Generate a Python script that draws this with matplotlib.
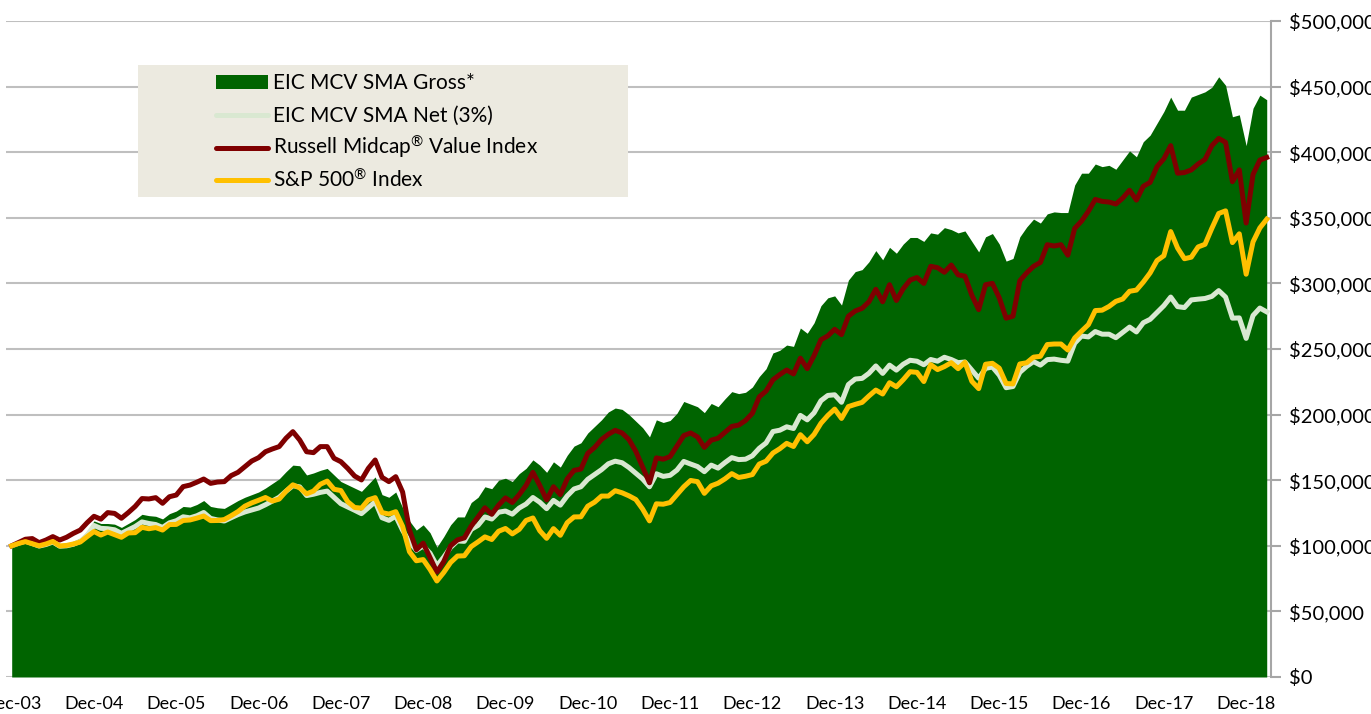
import matplotlib
matplotlib.use('Agg')
import matplotlib.pyplot as plt
from matplotlib.patches import Rectangle
from matplotlib.lines import Line2D
import pandas as pd

plt.rcParams['font.family'] = ['Lato', 'DejaVu Sans']
plt.rcParams['mathtext.fontset'] = 'custom'
plt.rcParams['mathtext.rm'] = 'Lato'
plt.rcParams['mathtext.it'] = 'Lato:italic'
plt.rcParams['mathtext.bf'] = 'Lato:bold'

# ---------------- data (values in $ thousands) ----------------
months = pd.date_range('2003-12-31', periods=184, freq='ME').strftime('%b-%y').tolist()

gross = [100, 102.3, 104, 102.5, 100.8, 102.3, 104.5, 101.5, 102, 103.5, 106, 111, 119,
         117, 117, 116.5, 114, 117, 120, 124, 123, 122.5, 120.5, 124.5, 126.5,
         130, 129.5, 131.5, 134.5, 130, 129, 128.5, 131.5, 134.5, 137, 139, 141,
         144, 147.5, 151, 156.5, 161.5, 161, 154, 155.5, 157.5, 159, 154, 149,
         146.5, 144, 141.5, 147, 152.5, 139, 137, 141, 129, 119, 112, 116,
         110, 99, 107, 116, 122, 122, 133, 137, 145, 143.5, 150, 151.5,
         149, 155, 159, 165.5, 161.5, 156, 164, 160, 169, 176, 178.5, 186,
         191, 196, 202, 205, 204, 200, 195, 190, 183, 196, 194, 195.5,
         201, 210, 208, 206, 201.5, 208.5, 206, 212, 217.5, 216, 217, 221,
         229, 235, 247, 249, 253, 252, 266, 262, 270, 283, 289, 290.5,
         283.5, 302.5, 309, 310.5, 316.5, 325, 318, 327.5, 323, 330, 335, 335,
         332, 338.5, 337.5, 342.5, 341, 338.5, 340, 332, 324, 335.5, 338, 330,
         317, 319, 335.5, 343, 349, 346, 353, 354.5, 354, 354, 375, 384,
         384, 391, 389, 390, 387, 394, 401, 396.5, 408, 413, 422, 431,
         442, 432, 432, 442, 444, 446, 449.5, 457.5, 451, 427, 428.5, 405,
         433.5, 443.5, 440]

net = [100, 102.0, 103.5, 101.7, 99.8, 101.0, 102.9, 99.7, 100.0, 101.2, 103.4, 108.0, 115.5,
       113.3, 113.0, 112.2, 109.5, 112.1, 114.7, 118.2, 117.0, 116.2, 114.0, 117.5, 119.1,
       122.1, 121.3, 122.9, 125.4, 120.9, 119.7, 118.9, 121.4, 123.8, 125.8, 127.3, 128.8,
       131.3, 134.1, 137.0, 141.6, 145.8, 144.9, 138.3, 139.3, 140.7, 141.7, 136.9, 132.1,
       129.6, 127.1, 124.5, 129.1, 133.6, 121.4, 119.4, 122.6, 111.8, 102.9, 96.6, 99.8,
       94.4, 84.8, 91.4, 98.8, 103.7, 103.4, 112.5, 115.6, 122.0, 120.4, 125.6, 126.5,
       124.1, 128.8, 131.8, 136.8, 133.2, 128.3, 134.6, 131.0, 138.0, 143.3, 145.0, 150.7,
       154.4, 158.0, 162.5, 164.5, 163.3, 159.7, 155.3, 150.9, 145.0, 154.9, 152.9, 153.7,
       157.7, 164.3, 162.3, 160.4, 156.5, 161.5, 159.2, 163.4, 167.2, 165.7, 166.0, 168.6,
       174.3, 178.4, 187.1, 188.1, 190.7, 189.4, 199.4, 196.0, 201.4, 210.6, 214.6, 215.1,
       209.4, 222.9, 227.1, 227.6, 231.5, 237.1, 231.4, 237.7, 233.9, 238.4, 241.4, 240.7,
       238.0, 242.0, 240.7, 243.7, 242.0, 239.6, 240.1, 233.9, 227.7, 235.2, 236.3, 230.1,
       220.5, 221.4, 232.2, 236.8, 240.4, 237.7, 241.9, 242.3, 241.4, 240.8, 254.4, 259.9,
       259.2, 263.3, 261.3, 261.3, 258.6, 262.6, 266.7, 263.0, 270.0, 272.6, 277.8, 283.0,
       289.6, 282.3, 281.6, 287.4, 288.0, 288.5, 290.1, 294.5, 289.6, 273.5, 273.7, 258.1,
       275.5, 281.2, 278.3]

russell = [100, 102.5, 105, 105.5, 102.4, 104.4, 107, 104.4, 106.5, 109.5, 112, 117.6, 122.5,
           120.3, 125.3, 124.7, 121, 125.3, 130, 136, 135.7, 136.7, 132.4, 137.4, 138.7,
           145.1, 146.3, 148.5, 150.9, 147.6, 148.6, 148.9, 153.5, 156, 160.3, 164.6, 167.2,
           171.7, 173.8, 175.6, 182, 187, 180.6, 171.7, 171, 175.6, 175.6, 166.7, 164.1,
           159, 153.2, 150.2, 159, 165.4, 152.2, 148.9, 152.7, 141, 112, 97, 102,
           91, 80, 88, 100, 104.5, 106, 115, 122, 129, 124, 131, 136.5,
           133, 139, 146, 156, 146, 135, 145, 139, 151, 157.5, 158.5, 170.5,
           175, 181, 185, 188, 186, 181, 172, 160, 148, 167, 166, 168,
           176, 184, 186, 183, 175, 180.5, 182, 186.5, 191, 192, 195.5, 201,
           213.5, 218, 226.5, 230.5, 234, 231, 243, 235, 245, 257, 260, 265,
           261, 275, 279, 281, 286, 295.5, 286, 299, 287, 296, 302.5, 304.5,
           300, 313, 312, 308.5, 314, 306.5, 305.5, 291, 280, 299, 300, 289,
           273.5, 275, 302, 308, 313, 316, 329.5, 328.5, 329.5, 321.5, 342, 347.5,
           355, 364, 362.5, 362, 360.5, 365, 371, 363.5, 374, 377, 389, 395,
           405, 384, 384.5, 386.5, 391, 394.5, 405, 410.5, 407.5, 377.5, 386.5, 346,
           383, 394, 396]

sp500 = [100, 101.8, 103.2, 101.6, 100.0, 101.4, 103.3, 99.9, 100.3, 101.4, 102.9, 107.0, 110.9,
         108.2, 110.5, 108.5, 106.5, 109.8, 110.0, 114.1, 113.0, 113.9, 112.0, 116.2, 116.3,
         119.3, 119.7, 121.1, 122.7, 119.2, 119.3, 120.0, 122.9, 126.1, 130.2, 132.7, 134.7,
         136.8, 134.1, 135.6, 141.6, 146.5, 144.1, 139.6, 141.7, 146.9, 149.3, 143.1, 142.1,
         133.6, 129.2, 128.7, 135.0, 136.7, 125.3, 124.2, 126.0, 114.8, 95.5, 88.6, 89.5,
         82.0, 73.2, 79.7, 87.3, 92.2, 92.4, 99.4, 103.0, 106.8, 104.8, 111.1, 113.2,
         109.1, 112.5, 119.3, 121.2, 111.5, 105.7, 113.1, 108.0, 117.6, 122.0, 122.1, 130.2,
         133.3, 137.9, 137.9, 142.0, 140.4, 138.1, 135.3, 128.0, 119.0, 132.0, 131.7, 133.0,
         139.0, 145.0, 149.8, 148.9, 140.0, 145.7, 147.7, 151.0, 155.0, 152.1, 153.0, 154.3,
         162.3, 164.5, 170.7, 174.0, 178.1, 175.7, 184.7, 179.3, 184.9, 193.4, 199.3, 204.2,
         197.1, 206.1, 207.8, 209.3, 214.2, 218.7, 215.7, 224.3, 221.2, 226.6, 232.7, 232.2,
         225.2, 238.1, 234.3, 236.6, 239.6, 235.0, 239.9, 225.4, 219.8, 238.4, 239.1, 235.4,
         223.7, 223.4, 238.6, 239.5, 243.8, 244.4, 253.4, 253.8, 253.8, 249.2, 258.4, 263.6,
         268.6, 279.3, 279.6, 282.4, 286.3, 288.1, 294.0, 294.9, 301.0, 308.0, 317.4, 321.1,
         339.5, 327.0, 318.8, 320.0, 327.8, 329.8, 342.0, 353.3, 355.3, 331.1, 337.8, 307.0,
         331.6, 342.3, 348.9]

series_names = ['EIC MCV SMA Gross*', 'EIC MCV SMA Net (3%)',
                'Russell Midcap$^{\\mathrm{\u00ae}}$ Value Index',
                'S&P 500$^{\\mathrm{\u00ae}}$ Index']
tick_labels = ['Dec-03', 'Dec-04', 'Dec-05', 'Dec-06', 'Dec-07', 'Dec-08', 'Dec-09', 'Dec-10',
               'Dec-11', 'Dec-12', 'Dec-13', 'Dec-14', 'Dec-15', 'Dec-16', 'Dec-17', 'Dec-18']
y_ticks = [0, 50, 100, 150, 200, 250, 300, 350, 400, 450, 500]

# ---------------- styling ----------------
C_GROSS = '#006400'
C_NET = '#D9E8D1'
C_RUSS = '#7F0000'
C_SP = '#FFC000'
C_GRID = '#BFBFBF'
C_AXIS = '#A6A6A6'
series_colors = [C_GROSS, C_NET, C_RUSS, C_SP]

W, H = 1371, 714
fig = plt.figure(figsize=(W / 100, H / 100), dpi=100)
ax = fig.add_axes([6 / W, 37 / H, 1264.7 / W, 656 / H])

x = list(range(len(months)))
ax.fill_between(x, 0, gross, color=C_GROSS, linewidth=0, zorder=2)
ax.plot(x, net, color=C_NET, lw=3.6, solid_joinstyle='round', zorder=3)
ax.plot(x, russell, color=C_RUSS, lw=3.6, solid_joinstyle='round', zorder=4)
ax.plot(x, sp500, color=C_SP, lw=3.6, solid_joinstyle='round', zorder=5)

ax.set_xlim(-0.83, 183.58)
ax.set_ylim(0, 500)

ax.set_yticks(y_ticks)
ax.set_yticklabels([f'${v * 1000:,.0f}' for v in y_ticks])
ax.yaxis.tick_right()
ax.grid(axis='y', color=C_GRID, lw=1.5, zorder=0)
ax.set_axisbelow(True)

tick_pos = [months.index(lbl) for lbl in tick_labels]
ax.set_xticks(tick_pos)
ax.set_xticklabels(tick_labels)

for s in ['top', 'left', 'bottom']:
    ax.spines[s].set_visible(False)
ax.spines['right'].set_color(C_AXIS)
ax.spines['right'].set_linewidth(1.5)

ax.tick_params(axis='y', direction='out', length=7, width=1.5, color=C_AXIS,
               pad=6, labelsize=14.5, labelcolor='black')
ax.tick_params(axis='x', length=0, pad=14, labelsize=13, labelcolor='black')

# ---------------- legend (drawn in figure pixel space) ----------------
def fx(px):
    return px / W

def fy(py):
    return 1 - py / H

fig.add_artist(Rectangle((fx(138), fy(197)), fx(628) - fx(138), fy(65) - fy(197),
                         transform=fig.transFigure, facecolor='#ECEAE0',
                         edgecolor='none', zorder=3))

row_centers = [82, 115, 147.5, 180]
for k, (name, col) in enumerate(zip(series_names, series_colors)):
    yc = row_centers[k]
    if k == 0:
        fig.add_artist(Rectangle((fx(216), fy(yc + 7)), fx(268) - fx(216), fy(yc - 7) - fy(yc + 7),
                                 transform=fig.transFigure, facecolor=col,
                                 edgecolor='none', zorder=4))
    else:
        fig.add_artist(Line2D([fx(215.5), fx(267.5)], [fy(yc), fy(yc)],
                              transform=fig.transFigure, color=col, lw=3.6,
                              solid_capstyle='round', zorder=4))
    fig.text(fx(273), fy(yc + 7), name, fontsize=15, color='black',
             ha='left', va='baseline', zorder=5)

fig.savefig('out.png', dpi=100)
